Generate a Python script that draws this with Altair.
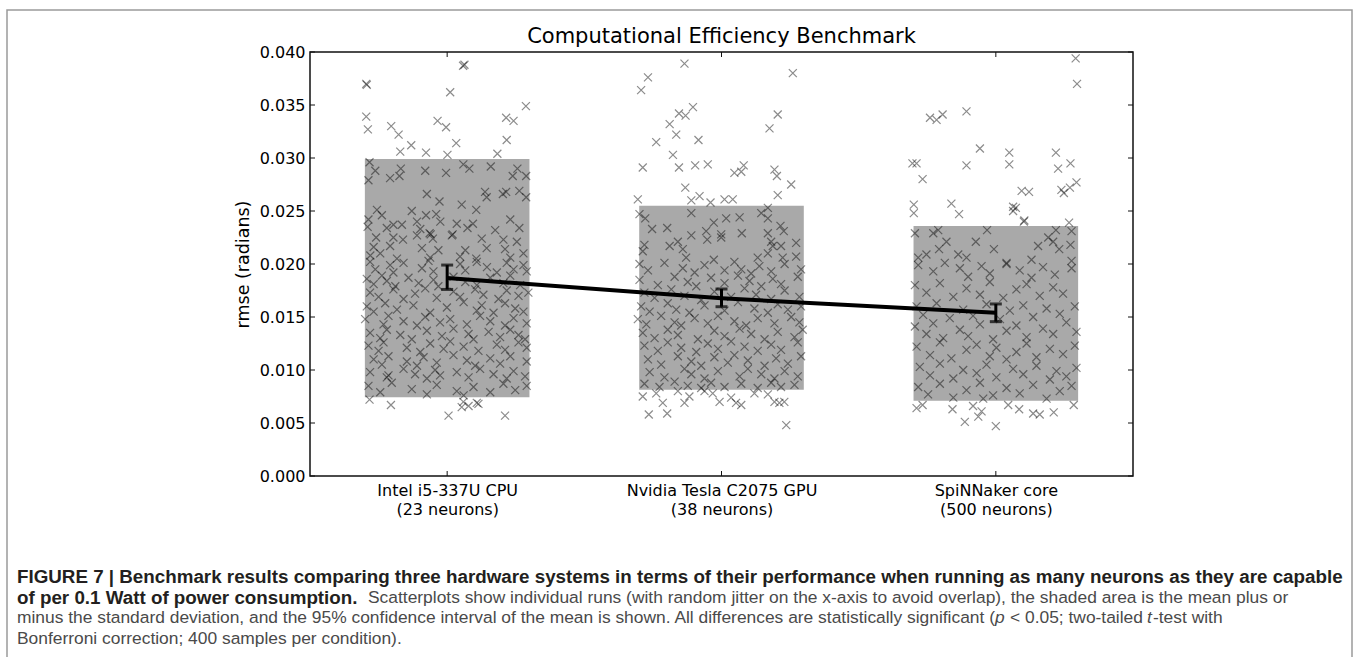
import altair as alt
import pandas as pd

# ---------------- data ----------------
categories = ["Intel i5-337U CPU", "Nvidia Tesla C2075 GPU", "SpiNNaker core"]
subtitles = ["(23 neurons)", "(38 neurons)", "(500 neurons)"]
positions = [0, 1, 2]
means = [0.01868, 0.01676, 0.01540]
ci_low = [0.01760, 0.01597, 0.01456]
ci_high = [0.01990, 0.01764, 0.01623]
sd_low = [0.00742, 0.00814, 0.00710]
sd_high = [0.02990, 0.02550, 0.02358]
y_ticks = [0.0, 0.005, 0.010, 0.015, 0.020, 0.025, 0.030, 0.035, 0.040]

# (x jitter, rmse) for individual runs
cpu_runs = [
    (0.063, 0.0388), (0.058, 0.0387), (-0.295, 0.0370), (-0.293, 0.0369), (0.011, 0.0362),
    (0.287, 0.0349), (-0.295, 0.0339), (-0.289, 0.0327), (-0.204, 0.0330), (-0.177, 0.0322),
    (-0.035, 0.0335), (-0.004, 0.0329), (0.215, 0.0338), (0.242, 0.0335), (0.217, 0.0317),
    (-0.131, 0.0312), (-0.171, 0.0306), (-0.077, 0.0305), (0.033, 0.0314), (0.001, 0.0303),
    (0.183, 0.0304),
    (-0.283, 0.0296), (-0.262, 0.0288), (-0.287, 0.0279), (-0.208, 0.0281), (-0.169, 0.0290),
    (-0.174, 0.0283), (-0.080, 0.0288), (-0.004, 0.0286), (0.059, 0.0294), (0.081, 0.0290),
    (0.159, 0.0292), (0.239, 0.0283), (0.256, 0.0290), (0.288, 0.0283),
    (-0.074, 0.0266), (-0.028, 0.0259), (0.138, 0.0268), (0.144, 0.0263), (0.203, 0.0266),
    (0.215, 0.0268), (0.263, 0.0269), (0.288, 0.0263),
    (0.053, 0.0256), (0.106, 0.0251), (-0.256, 0.0251), (-0.238, 0.0246), (-0.129, 0.0250),
    (-0.077, 0.0246), (-0.040, 0.0247),
    (-0.287, 0.0242), (-0.290, 0.0235), (-0.220, 0.0234), (-0.196, 0.0237), (-0.165, 0.0237),
    (-0.110, 0.0240), (-0.098, 0.0233), (-0.064, 0.0229), (-0.060, 0.0228), (-0.025, 0.0240),
    (0.017, 0.0227), (0.020, 0.0228), (0.035, 0.0238), (0.074, 0.0234), (0.094, 0.0238),
    (0.175, 0.0232), (0.230, 0.0242), (0.263, 0.0234),
    (-0.259, 0.0225), (-0.196, 0.0225), (-0.161, 0.0223), (-0.110, 0.0227), (-0.052, 0.0224),
    (0.126, 0.0224), (0.205, 0.0223), (0.254, 0.0221),
    (-0.268, 0.0216), (-0.208, 0.0217), (-0.092, 0.0215), (-0.032, 0.0213), (0.066, 0.0213),
    (0.144, 0.0215), (0.211, 0.0214), (0.278, 0.0210),
    (-0.280, 0.0208), (-0.244, 0.0210), (-0.183, 0.0205), (-0.062, 0.0206), (0.047, 0.0207),
    (0.106, 0.0205), (0.230, 0.0206),
    (-0.281, 0.0202), (-0.262, 0.0195), (-0.208, 0.0199), (-0.196, 0.0192), (-0.159, 0.0201),
    (-0.092, 0.0196), (-0.068, 0.0203), (-0.050, 0.0193), (0.047, 0.0200), (0.066, 0.0194),
    (0.108, 0.0202), (0.145, 0.0197), (0.181, 0.0192), (0.217, 0.0201), (0.242, 0.0195),
    (0.278, 0.0199), (0.290, 0.0193),
    (-0.293, 0.0186), (-0.268, 0.0181), (-0.238, 0.0189), (-0.220, 0.0184), (-0.189, 0.0179),
    (-0.141, 0.0187), (-0.104, 0.0182), (-0.050, 0.0185), (-0.032, 0.0179), (0.023, 0.0188),
    (0.066, 0.0183), (0.108, 0.0180), (0.157, 0.0187), (0.205, 0.0182), (0.230, 0.0189),
    (0.266, 0.0180),
    (-0.281, 0.0173), (-0.250, 0.0169), (-0.196, 0.0176), (-0.159, 0.0167), (-0.117, 0.0172),
    (-0.080, 0.0177), (-0.038, 0.0168), (0.023, 0.0174), (0.047, 0.0169), (0.102, 0.0176),
    (0.132, 0.0171), (0.187, 0.0167), (0.217, 0.0175), (0.260, 0.0170), (0.296, 0.0173),
    (-0.293, 0.0160), (-0.268, 0.0155), (-0.226, 0.0163), (-0.183, 0.0157), (-0.123, 0.0161),
    (-0.062, 0.0154), (-0.001, 0.0159), (0.060, 0.0164), (0.108, 0.0156), (0.126, 0.0161),
    (0.169, 0.0154), (0.211, 0.0163), (0.248, 0.0158), (0.278, 0.0155),
    (-0.299, 0.0148), (-0.232, 0.0143), (-0.214, 0.0151), (-0.159, 0.0146), (-0.110, 0.0142),
    (-0.080, 0.0150), (-0.026, 0.0145), (0.011, 0.0148), (0.072, 0.0143), (0.120, 0.0151),
    (0.157, 0.0146), (0.211, 0.0142), (0.242, 0.0149), (0.290, 0.0144),
    (-0.281, 0.0135), (-0.244, 0.0130), (-0.220, 0.0138), (-0.171, 0.0133), (-0.129, 0.0129),
    (-0.074, 0.0137), (-0.019, 0.0132), (0.023, 0.0139), (0.078, 0.0134), (0.096, 0.0129),
    (0.151, 0.0136), (0.193, 0.0131), (0.230, 0.0138), (0.260, 0.0133), (0.284, 0.0129),
    (-0.287, 0.0123), (-0.250, 0.0118), (-0.232, 0.0126), (-0.147, 0.0121), (-0.098, 0.0117),
    (-0.062, 0.0125), (-0.013, 0.0120), (0.011, 0.0127), (0.060, 0.0122), (0.114, 0.0118),
    (0.181, 0.0124), (0.211, 0.0119), (0.260, 0.0126), (0.290, 0.0121),
    (-0.268, 0.0110), (-0.238, 0.0105), (-0.214, 0.0113), (-0.147, 0.0108), (-0.110, 0.0104),
    (-0.086, 0.0112), (-0.038, 0.0107), (0.023, 0.0114), (0.072, 0.0109), (0.102, 0.0104),
    (0.157, 0.0111), (0.193, 0.0106), (0.230, 0.0113), (0.290, 0.0108),
    (-0.281, 0.0098), (-0.220, 0.0093), (-0.214, 0.0095), (-0.159, 0.0101), (-0.117, 0.0096),
    (-0.074, 0.0092), (-0.044, 0.0100), (-0.026, 0.0095), (0.035, 0.0098), (0.078, 0.0093),
    (0.120, 0.0101), (0.169, 0.0096), (0.217, 0.0092), (0.242, 0.0099), (0.284, 0.0094),
    (-0.287, 0.0085), (-0.244, 0.0079), (-0.202, 0.0088), (-0.129, 0.0082), (-0.074, 0.0077),
    (-0.038, 0.0086), (0.035, 0.0080), (0.060, 0.0076), (0.096, 0.0084), (0.157, 0.0079),
    (0.205, 0.0087), (0.248, 0.0081), (0.290, 0.0085),
    (-0.283, 0.0072), (-0.205, 0.0067), (0.005, 0.0057), (0.211, 0.0057), (0.059, 0.0070),
    (0.078, 0.0066), (0.108, 0.0069), (0.053, 0.0065), (0.114, 0.0068),
]

gpu_runs = [
    (-0.135, 0.0389), (-0.268, 0.0376), (-0.293, 0.0364), (0.260, 0.0380), (-0.155, 0.0342),
    (-0.131, 0.0340), (-0.104, 0.0348), (-0.189, 0.0332), (-0.165, 0.0322), (-0.238, 0.0315),
    (-0.084, 0.0317), (0.205, 0.0341), (0.175, 0.0328), (-0.177, 0.0303), (-0.287, 0.0291),
    (-0.155, 0.0291), (-0.096, 0.0293), (-0.050, 0.0294), (0.047, 0.0286), (0.072, 0.0287),
    (0.081, 0.0293), (0.193, 0.0289), (0.202, 0.0283), (0.254, 0.0275), (-0.132, 0.0272),
    (-0.305, 0.0261), (-0.080, 0.0264), (-0.110, 0.0260), (0.205, 0.0265), (-0.040, 0.0258),
    (0.011, 0.0261), (0.041, 0.0261), (0.169, 0.0253),
    (-0.299, 0.0247), (-0.278, 0.0243), (-0.110, 0.0248), (-0.028, 0.0239), (0.017, 0.0243),
    (0.066, 0.0244), (0.145, 0.0248), (0.169, 0.0243), (-0.253, 0.0233), (-0.198, 0.0234),
    (-0.110, 0.0227), (-0.056, 0.0231), (-0.001, 0.0228), (0.074, 0.0229), (0.169, 0.0229),
    (0.215, 0.0236), (0.227, 0.0231), (-0.281, 0.0218), (-0.189, 0.0217), (-0.159, 0.0221),
    (-0.141, 0.0214), (-0.052, 0.0223), (-0.001, 0.0225), (0.181, 0.0221), (0.187, 0.0217),
    (0.217, 0.0217), (0.272, 0.0220), (-0.287, 0.0212), (-0.129, 0.0206), (-0.028, 0.0204),
    (0.132, 0.0206), (0.169, 0.0210), (0.223, 0.0206), (0.272, 0.0207),
    (-0.299, 0.0200), (-0.268, 0.0194), (-0.208, 0.0201), (-0.141, 0.0196), (-0.098, 0.0192),
    (-0.062, 0.0199), (0.011, 0.0194), (0.047, 0.0202), (0.072, 0.0195), (0.108, 0.0191),
    (0.138, 0.0198), (0.181, 0.0193), (0.230, 0.0200), (0.290, 0.0195),
    (-0.299, 0.0185), (-0.232, 0.0180), (-0.171, 0.0188), (-0.123, 0.0183), (-0.092, 0.0179),
    (-0.038, 0.0187), (0.011, 0.0182), (0.060, 0.0189), (0.102, 0.0184), (0.145, 0.0179),
    (0.187, 0.0186), (0.217, 0.0181), (0.278, 0.0188),
    (-0.281, 0.0173), (-0.244, 0.0168), (-0.183, 0.0176), (-0.135, 0.0170), (-0.074, 0.0166),
    (-0.026, 0.0174), (0.035, 0.0169), (0.084, 0.0177), (0.126, 0.0171), (0.181, 0.0167),
    (0.230, 0.0175), (0.284, 0.0169),
    (-0.293, 0.0160), (-0.262, 0.0155), (-0.196, 0.0163), (-0.165, 0.0157), (-0.117, 0.0154),
    (-0.062, 0.0161), (0.011, 0.0156), (0.060, 0.0164), (0.120, 0.0158), (0.169, 0.0154),
    (0.205, 0.0162), (0.242, 0.0157), (0.290, 0.0160),
    (-0.305, 0.0148), (-0.274, 0.0143), (-0.220, 0.0151), (-0.171, 0.0145), (-0.147, 0.0142),
    (-0.098, 0.0149), (-0.050, 0.0144), (-0.013, 0.0151), (0.047, 0.0146), (0.090, 0.0142),
    (0.132, 0.0149), (0.193, 0.0144), (0.254, 0.0150), (0.284, 0.0145),
    (-0.287, 0.0135), (-0.244, 0.0130), (-0.196, 0.0138), (-0.159, 0.0133), (-0.086, 0.0129),
    (-0.026, 0.0137), (0.011, 0.0132), (0.066, 0.0139), (0.108, 0.0134), (0.157, 0.0129),
    (0.205, 0.0136), (0.266, 0.0131), (0.296, 0.0138),
    (-0.281, 0.0123), (-0.232, 0.0118), (-0.196, 0.0126), (-0.147, 0.0121), (-0.092, 0.0117),
    (-0.050, 0.0125), (-0.013, 0.0120), (0.035, 0.0127), (0.084, 0.0122), (0.132, 0.0118),
    (0.181, 0.0124), (0.217, 0.0119), (0.278, 0.0126),
    (-0.268, 0.0110), (-0.220, 0.0105), (-0.159, 0.0113), (-0.110, 0.0108), (-0.074, 0.0104),
    (-0.026, 0.0112), (0.023, 0.0107), (0.047, 0.0114), (0.096, 0.0109), (0.157, 0.0104),
    (0.199, 0.0111), (0.242, 0.0106), (0.290, 0.0113),
    (-0.262, 0.0098), (-0.208, 0.0093), (-0.135, 0.0101), (-0.110, 0.0096), (-0.062, 0.0092),
    (-0.013, 0.0099), (0.066, 0.0094), (0.096, 0.0101), (0.145, 0.0096), (0.193, 0.0092),
    (0.230, 0.0099), (0.278, 0.0094),
    (-0.281, 0.0087), (-0.226, 0.0084), (-0.171, 0.0089), (-0.123, 0.0085), (-0.074, 0.0083),
    (-0.038, 0.0088), (0.011, 0.0084), (0.072, 0.0087), (0.132, 0.0083), (0.181, 0.0088),
    (0.217, 0.0084), (0.266, 0.0086),
    (-0.287, 0.0075), (-0.238, 0.0078), (-0.214, 0.0069), (-0.265, 0.0058), (-0.198, 0.0059),
    (-0.159, 0.0080), (-0.135, 0.0069), (-0.117, 0.0075), (-0.062, 0.0080), (-0.032, 0.0078),
    (-0.007, 0.0070), (0.035, 0.0074), (0.053, 0.0069), (0.072, 0.0067), (0.120, 0.0078),
    (0.193, 0.0070), (0.211, 0.0069), (0.229, 0.0070), (0.236, 0.0048), (0.169, 0.0077),
]

spin_runs = [
    (0.291, 0.0394), (0.296, 0.0370), (-0.240, 0.0338), (-0.216, 0.0336), (-0.194, 0.0341),
    (-0.107, 0.0344), (-0.058, 0.0309), (0.049, 0.0305), (0.049, 0.0294), (-0.107, 0.0293),
    (-0.304, 0.0295), (-0.289, 0.0295), (-0.267, 0.0280), (0.219, 0.0305), (0.227, 0.0290),
    (0.272, 0.0295), (0.294, 0.0277), (0.094, 0.0269), (0.121, 0.0268), (0.239, 0.0270),
    (0.248, 0.0267), (0.270, 0.0272), (-0.299, 0.0256), (-0.299, 0.0248), (-0.162, 0.0257),
    (-0.134, 0.0247), (0.063, 0.0254), (0.073, 0.0253), (0.063, 0.0250), (0.102, 0.0240),
    (0.104, 0.0241), (0.267, 0.0239),
    (-0.295, 0.0229), (-0.228, 0.0229), (-0.210, 0.0232), (-0.032, 0.0232), (0.219, 0.0232),
    (0.276, 0.0231), (-0.180, 0.0221), (-0.073, 0.0221), (-0.207, 0.0214), (-0.007, 0.0214),
    (0.154, 0.0217), (0.191, 0.0225), (0.209, 0.0221), (0.231, 0.0214), (0.272, 0.0218),
    (-0.283, 0.0206), (-0.253, 0.0209), (-0.137, 0.0209), (-0.107, 0.0206), (0.039, 0.0201),
    (0.130, 0.0204), (0.276, 0.0203),
    (-0.283, 0.0199), (-0.228, 0.0193), (-0.186, 0.0201), (-0.131, 0.0196), (-0.101, 0.0188),
    (-0.052, 0.0198), (-0.022, 0.0191), (0.039, 0.0200), (0.087, 0.0194), (0.130, 0.0187),
    (0.172, 0.0197), (0.215, 0.0190), (0.276, 0.0196),
    (-0.295, 0.0180), (-0.253, 0.0173), (-0.204, 0.0182), (-0.155, 0.0169), (-0.107, 0.0177),
    (-0.058, 0.0171), (-0.022, 0.0183), (0.027, 0.0168), (0.075, 0.0176), (0.112, 0.0181),
    (0.160, 0.0170), (0.209, 0.0178), (0.245, 0.0172),
    (-0.289, 0.0160), (-0.265, 0.0152), (-0.216, 0.0163), (-0.168, 0.0149), (-0.119, 0.0157),
    (-0.083, 0.0151), (-0.034, 0.0162), (0.015, 0.0148), (0.051, 0.0156), (0.100, 0.0161),
    (0.136, 0.0150), (0.185, 0.0158), (0.233, 0.0153), (0.288, 0.0160),
    (-0.295, 0.0141), (-0.253, 0.0134), (-0.228, 0.0144), (-0.192, 0.0130), (-0.131, 0.0138),
    (-0.101, 0.0132), (-0.058, 0.0143), (-0.010, 0.0129), (0.039, 0.0137), (0.075, 0.0142),
    (0.112, 0.0131), (0.172, 0.0139), (0.209, 0.0134), (0.257, 0.0145), (0.294, 0.0136),
    (-0.289, 0.0122), (-0.240, 0.0114), (-0.204, 0.0126), (-0.162, 0.0111), (-0.107, 0.0119),
    (-0.070, 0.0124), (-0.022, 0.0113), (0.002, 0.0121), (0.039, 0.0110), (0.075, 0.0117),
    (0.112, 0.0125), (0.148, 0.0112), (0.197, 0.0120), (0.245, 0.0115), (0.288, 0.0123),
    (-0.277, 0.0103), (-0.240, 0.0095), (-0.204, 0.0106), (-0.155, 0.0092), (-0.119, 0.0100),
    (-0.070, 0.0097), (-0.034, 0.0105), (0.002, 0.0093), (0.063, 0.0101), (0.100, 0.0096),
    (0.148, 0.0104), (0.197, 0.0091), (0.221, 0.0099), (0.257, 0.0094), (0.294, 0.0102),
    (-0.283, 0.0084), (-0.247, 0.0077), (-0.204, 0.0087), (-0.155, 0.0074), (-0.107, 0.0081),
    (-0.058, 0.0088), (-0.010, 0.0076), (0.039, 0.0083), (0.087, 0.0078), (0.136, 0.0086),
    (0.185, 0.0073), (0.233, 0.0080), (0.276, 0.0085),
    (-0.289, 0.0064), (-0.267, 0.0067), (-0.158, 0.0063), (-0.113, 0.0051), (-0.083, 0.0066),
    (-0.064, 0.0056), (-0.052, 0.0061), (0.000, 0.0047), (0.045, 0.0067), (0.085, 0.0063),
    (0.136, 0.0059), (0.160, 0.0058), (0.211, 0.0060), (0.284, 0.0067), (-0.046, 0.0073),
]

chart_title = "Computational Efficiency Benchmark"
y_title = "rmse (radians)"

# caption text
cap_line1 = ("FIGURE 7 | Benchmark results comparing three hardware systems in terms of their "
             "performance when running as many neurons as they are capable")
cap_line2_bold = "of per 0.1 Watt of power consumption."
cap_line2 = ("Scatterplots show individual runs (with random jitter on the x-axis to avoid overlap), "
             "the shaded area is the mean plus or")
cap_line3a = ("minus the standard deviation, and the 95% confidence interval of the mean is shown. "
              "All differences are statistically significant (")
cap_line3p = "p"
cap_line3b = "< 0.05; two-tailed"
cap_line3t = "t"
cap_line3c = "-test with"
cap_line4 = "Bonferroni correction; 400 samples per condition)."

# ---------------- tables ----------------
summary = pd.DataFrame({
    "pos": positions, "mean": means, "ci_lo": ci_low, "ci_hi": ci_high,
    "sd_lo": sd_low, "sd_hi": sd_high,
})
summary["left"] = summary["pos"] - 0.3
summary["right"] = summary["pos"] + 0.3

rows = []
for p, runs in zip(positions, [cpu_runs, gpu_runs, spin_runs]):
    for j, v in runs:
        rows.append({"x": p + j, "rmse": v})
scatter_df = pd.DataFrame(rows)

yt_df = pd.DataFrame({"v": y_ticks})
xt_df = pd.DataFrame({"p": positions})
one = pd.DataFrame({"a": [0]})

W, H = 823, 424
OX, OY = 310, 52
xscale = alt.Scale(domain=[-0.5, 2.5], nice=False, zero=False)
yscale = alt.Scale(domain=[0, 0.04], nice=False)

label_expr = "[" + ", ".join(
    "['%s', '%s']" % (c, s) for c, s in zip(categories, subtitles)
) + "][datum.value]"

FONT = "DejaVu Sans"

xaxis = alt.Axis(values=positions, labelExpr=label_expr, ticks=False, domain=False,
                 grid=False, labelFont=FONT, labelFontSize=16, labelColor="#000",
                 labelPadding=6, labelLineHeight=19, title=None, labelAngle=0,
                 labelBaseline="top", labelLimit=500)
yaxis = alt.Axis(values=y_ticks, format=".3f", ticks=False, domain=False, grid=False,
                 labelFont=FONT, labelFontSize=16, labelColor="#000", labelPadding=5,
                 title=y_title, titleFont=FONT, titleFontSize=17.5,
                 titleFontWeight="normal", titleColor="#000", titlePadding=7)


def X(field):
    return alt.X(field, type="quantitative", scale=xscale, axis=xaxis)


def Y(field):
    return alt.Y(field, type="quantitative", scale=yscale, axis=yaxis)


rects = alt.Chart(summary).mark_rect(color="#a9a9a9").encode(
    x=X("left"), x2="right", y=Y("sd_lo"), y2="sd_hi")

points = alt.Chart(scatter_df).mark_point(
    shape="M-1,-1L1,1M-1,1L1,-1", filled=False, size=64, strokeWidth=1.2,
    color="black", opacity=0.45,
).encode(x=X("x"), y=Y("rmse"))

line = alt.Chart(summary).mark_line(color="black", strokeWidth=4).encode(
    x=X("pos"), y=Y("mean"))

err = alt.Chart(summary).mark_rule(color="black", strokeWidth=3).encode(
    x=X("pos"), y=Y("ci_lo"), y2="ci_hi")
cap_lo = alt.Chart(summary).mark_tick(color="black", orient="horizontal", size=12,
                                      thickness=3).encode(x=X("pos"), y=Y("ci_lo"))
cap_hi = alt.Chart(summary).mark_tick(color="black", orient="horizontal", size=12,
                                      thickness=3).encode(x=X("pos"), y=Y("ci_hi"))

# inward ticks (matplotlib classic style)
tick_col = "#111"
yt_left = alt.Chart(yt_df).mark_rule(color=tick_col, strokeWidth=1).encode(
    y=Y("v"), x=alt.value(0), x2=alt.value(5))
yt_right = alt.Chart(yt_df).mark_rule(color=tick_col, strokeWidth=1).encode(
    y=Y("v"), x=alt.value(W - 5), x2=alt.value(W))
xt_top = alt.Chart(xt_df).mark_rule(color=tick_col, strokeWidth=1).encode(
    x=X("p"), y=alt.value(0), y2=alt.value(5))
xt_bot = alt.Chart(xt_df).mark_rule(color=tick_col, strokeWidth=1).encode(
    x=X("p"), y=alt.value(H - 5), y2=alt.value(H))

# outer figure frame
frame = alt.Chart(one).mark_rect(fill=None, stroke="#9a9a9a", strokeWidth=1.5).encode(
    x=alt.value(7 - OX), x2=alt.value(1352 - OX), y=alt.value(10 - OY), y2=alt.value(700))

# chart title as text
title_mark = alt.Chart(one).mark_text(
    text=chart_title, font=FONT, fontSize=21, color="#000", align="center", baseline="middle"
).encode(x=alt.value(W / 2), y=alt.value(37 - OY))

# caption
BOLD_COL = "#231f20"
TXT_COL = "#4a4a4a"
CAP_FONT = "Liberation Sans"


def cap(text, x, y, bold=False, italic=False, size=17.4, align="left", color=None):
    return alt.Chart(one).mark_text(
        text=text, font=CAP_FONT, fontSize=size, align=align, baseline="middle",
        fontWeight="bold" if bold else "normal", fontStyle="italic" if italic else "normal",
        color=color or (BOLD_COL if bold else TXT_COL),
    ).encode(x=alt.value(x - OX), y=alt.value(y - OY))


caps = [
    cap(cap_line1, 17, 577, bold=True, size=18.8),
    cap(cap_line2_bold, 17, 598, bold=True, size=18.8),
    cap(cap_line2, 368, 598),
    cap(cap_line3a, 17, 618),
    cap(cap_line3p, 995, 618, italic=True),
    cap(cap_line3b, 1010, 618),
    cap(cap_line3t, 1147, 618, italic=True),
    cap(cap_line3c, 1153, 618),
    cap(cap_line4, 17, 639),
]

chart = alt.layer(
    frame, rects, points, line, err, cap_lo, cap_hi, yt_left, yt_right, xt_top, xt_bot,
    title_mark, *caps
).properties(
    width=W, height=H,
    background="white",
    autosize=alt.AutoSizeParams(type="none"),
    padding={"left": OX, "top": OY, "right": 1360 - OX - W, "bottom": 657 - OY - H},
).configure_view(
    stroke="#111", strokeWidth=1.5
)

chart.save("out.html", embed_options={"renderer": "svg", "actions": False})
